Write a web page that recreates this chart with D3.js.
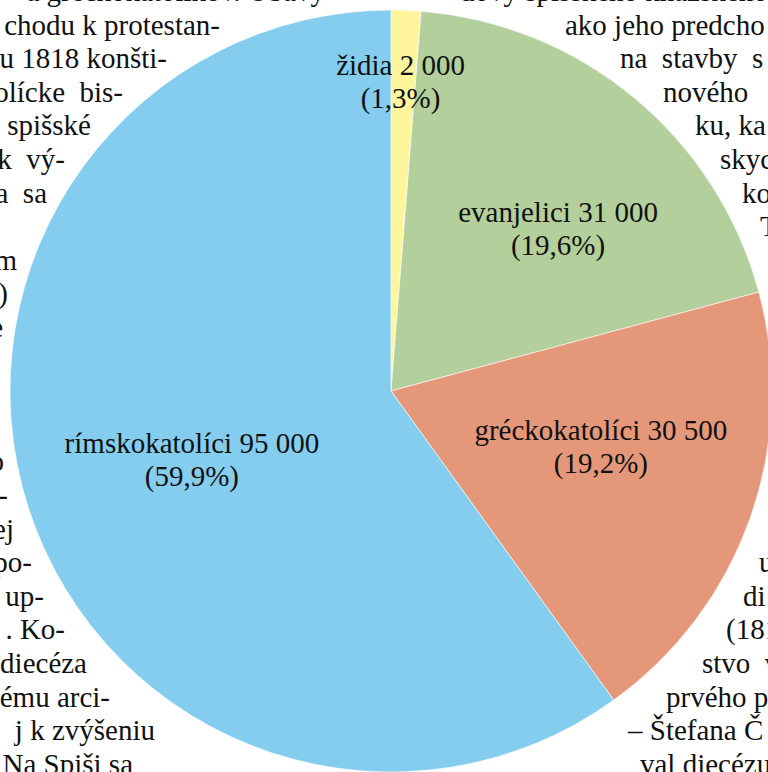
<!DOCTYPE html>
<html>

<head>
    <meta charset="utf-8">
    <script src="https://cdnjs.cloudflare.com/ajax/libs/d3/7.8.5/d3.min.js"></script>
    <style>
        body {
            margin: 0;
            background: #ffffff;
        }

        svg {
            display: block;
        }

        svg text {
            font-family: 'Liberation Serif', 'Times New Roman', Tinos, 'DejaVu Serif', 'Noto Serif', serif;
            fill: #111111;
            white-space: pre;
        }
    </style>
</head>

<body>
    <div id="pie"></div>

    <script>
        // chart data
        var categories = ["židia", "evanjelici", "gréckokatolíci", "rímskokatolíci"];
        var values = [2000, 31000, 30500, 95000];
        var colors = ["#fff59d", "#b3d09c", "#e59779", "#84cdee"];

        // label placement (fraction of radius, angle nudge in degrees)
        var labelRadius = [0.811, 0.611, 0.570, 0.553];
        var labelNudge = [-0.5, 6.1, -4.7, -1.2];

        // page text that wraps around the chart: [line, x, text]
        var leftLines = [
            [0, 325, "a gréckokatolíkov. Obavy"],
            [1, 220, "chodu k protestan-"],
            [2, 167, "u 1818 konšti-"],
            [3, 123, "olícke  bis-"],
            [4, 91, "spišské"],
            [5, 65, "k  vý-"],
            [6, 47, "a  sa"],
            [8, 17, "m"],
            [9, 8, ")"],
            [10, 3, "e"],
            [14, 4, "o"],
            [15, 8, "-"],
            [16, 14, "ej"],
            [17, 32, "po-"],
            [18, 44, "up-"],
            [19, 65, ". Ko-"],
            [20, 87, "diecéza"],
            [21, 110, "kému arci-"],
            [22, 155, "j k zvýšeniu"],
            [23, 133, "Na Spiši sa"]
        ];
        var rightLines = [
            [0, 460, "dovy spišského kňazského"],
            [1, 565, "ako jeho predcho"],
            [2, 620, "na  stavby  s"],
            [3, 663, "nového"],
            [4, 695, "ku, ka"],
            [5, 720, "skyc"],
            [6, 742, "ko"],
            [7, 760, "T"],
            [17, 759, "u"],
            [18, 743, "di"],
            [19, 726, "(181"],
            [20, 702, "stvo  v"],
            [21, 666, "prvého p"],
            [22, 628, "– Štefana Č"],
            [23, 640, "val diecézu"]
        ];

        var width = 768,
            height = 772,
            cx = 391,
            cy = 391,
            radius = 381,
            fontSize = 29,
            lineGap = 33.6;

        var sk = d3.formatLocale({
            decimal: ",",
            thousands: " ",
            grouping: [3],
            currency: ["", " €"]
        });
        var fmt = sk.format(",d");

        var total = d3.sum(values);

        var data = categories.map(function(c, i) {
            return {
                label: c,
                value: values[i],
                color: colors[i],
                lr: labelRadius[i],
                nudge: labelNudge[i]
            };
        });

        var svg = d3.select("#pie")
            .append("svg")
            .attr("width", width)
            .attr("height", height)
            .attr("font-family", "Liberation Serif, serif");

        // background page text
        var page = svg.append("g").attr("class", "page")
            .style("font-size", fontSize + "px");

        page.selectAll("text.left")
            .data(leftLines)
            .enter()
            .append("text")
            .attr("class", "left")
            .attr("text-anchor", "end")
            .attr("x", function(d) { return d[1]; })
            .attr("y", function(d) { return 1 + d[0] * lineGap; })
            .text(function(d) { return d[2]; });

        page.selectAll("text.right")
            .data(rightLines)
            .enter()
            .append("text")
            .attr("class", "right")
            .attr("x", function(d) { return d[1]; })
            .attr("y", function(d) { return 1 + d[0] * lineGap; })
            .text(function(d) { return d[2]; });

        // pie
        var g = svg.append("g")
            .attr("transform", "translate(" + cx + "," + cy + ")");

        var pie = d3.pie()
            .sort(null)
            .value(function(d) { return d.value; });

        var arc = d3.arc()
            .outerRadius(radius)
            .innerRadius(0);

        var arcs = pie(data);

        g.selectAll("path")
            .data(arcs)
            .enter()
            .append("path")
            .attr("d", arc)
            .style("fill", function(d) { return d.data.color; })
            .style("stroke", "#ffffff")
            .style("stroke-width", 0.6);

        var labels = g.selectAll("g.label")
            .data(arcs)
            .enter()
            .append("g")
            .attr("class", "label")
            .attr("transform", function(d) {
                var a = (d.startAngle + d.endAngle) / 2 + d.data.nudge * Math.PI / 180;
                var r = radius * d.data.lr;
                return "translate(" + (r * Math.sin(a)) + "," + (-r * Math.cos(a)) + ")";
            })
            .style("font-size", fontSize + "px")
            .attr("text-anchor", "middle");

        labels.append("text")
            .attr("y", -7)
            .text(function(d) { return d.data.label + " " + fmt(d.data.value); });

        labels.append("text")
            .attr("y", 26)
            .text(function(d) {
                return "(" + (d.data.value / total * 100).toFixed(1).replace(".", ",") + "%)";
            });
    </script>

</body>

</html>
